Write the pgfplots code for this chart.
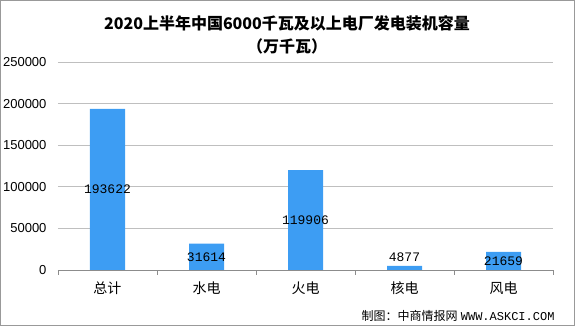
\documentclass[border=0pt]{standalone}
\usepackage{pgfplots}
\pgfplotsset{compat=1.18}
\usepackage{fontspec}
\setmainfont{Liberation Sans}
\newfontfamily\cjk{Noto Sans CJK SC}
\newfontfamily\mono{Liberation Mono}
\definecolor{barblue}{HTML}{3D9DF3}
\definecolor{gridgray}{HTML}{BFBFBF}
\begin{document}
\begin{tikzpicture}[x=1pt,y=1pt]
\useasboundingbox (0,0) rectangle (575,326);
\draw[gray!80,line width=0.8pt] (0.5,0.5) rectangle (574.5,325.5);
\node[font=\cjk\bfseries\fontsize{16}{18}\selectfont] at (287,303) {2020上半年中国6000千瓦及以上电厂发电装机容量};
\node[font=\cjk\bfseries\fontsize{16}{18}\selectfont] at (287,280) {（万千瓦）};
\node[anchor=east,font=\fontsize{12}{14}\selectfont] at (558,10) {{\cjk 制图：中商情报网} {\mono WWW.ASKCI.COM}};
\begin{axis}[
  at={(58pt,56pt)}, anchor=south west,
  scale only axis, width=495pt, height=208pt,
  xmin=-0.5, xmax=4.5, ymin=0, ymax=250000,
  axis x line*=bottom,
  axis y line*=left,
  y axis line style={draw=none},
  x axis line style={draw=gray!90, line width=0.8pt, -},
  xtick={0,1,2,3,4},
  xticklabels={总计,水电,火电,核电,风电},
  xticklabel style={font=\cjk\fontsize{14}{16}\selectfont, yshift=-4pt},
  major x tick style={draw=none},
  minor xtick={-0.5,0.5,1.5,2.5,3.5,4.5},
  minor x tick style={draw=gray!90, line width=0.8pt},
  xtick align=outside,
  minor tick length=5pt,
  ytick={0,50000,100000,150000,200000,250000},
  major y tick style={draw=none},
  ymajorgrids,
  major grid style={gridgray, line width=0.8pt},
  yticklabel style={font=\fontsize{13}{15}\selectfont, xshift=-8pt},
  /pgf/number format/assume math mode=true,
  scaled y ticks=false,
  yticklabel={\pgfmathprintnumber[fixed,precision=0,1000 sep={}]{\tick}},
  clip=false,
]
\addplot[ybar, bar width=35pt, fill=barblue, draw=none] coordinates {(0,193622) (1,31614) (2,119906) (3,4877) (4,21659)};
\addplot[draw=none, mark=none, point meta=explicit symbolic,
  nodes near coords, nodes near coords style={anchor=center, font=\mono\fontsize{13}{15}\selectfont, text=black}]
  coordinates {(0,96811)[193622] (1,15807)[31614] (2,59953)[119906] (4,10830)[21659]};
\addplot[draw=none, mark=none, point meta=explicit symbolic,
  nodes near coords, nodes near coords style={anchor=south, font=\mono\fontsize{13}{15}\selectfont, text=black, yshift=1pt}]
  coordinates {(3,4877)[4877]};
\end{axis}
\end{tikzpicture}
\end{document}
